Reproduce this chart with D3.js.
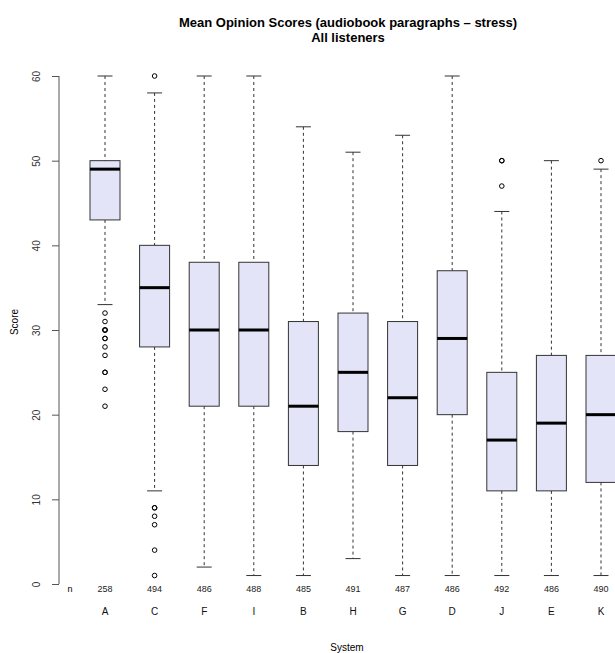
<!DOCTYPE html>
<html><head><meta charset="utf-8">
<script src="https://cdn.jsdelivr.net/npm/d3@7"></script>
<style>body{margin:0;background:#fff}text{font-family:"Liberation Sans",Arial,sans-serif}</style>
</head><body><svg id="c" width="615" height="653"></svg>
<script>
var systems = ["A","C","F","I","B","H","G","D","J","E","K"];
var counts = [258,494,486,488,485,491,487,486,492,486,490];
var whiskLo = [33,11,2,1,1,3,1,1,1,1,1];
var q1 = [43,28,21,21,14,18,14,20,11,11,12];
var median = [49,35,30,30,21,25,22,29,17,19,20];
var q3 = [50,40,38,38,31,32,31,37,25,27,27];
var whiskHi = [60,58,60,60,54,51,53,60,44,50,49];
var outliers = [[32,31,30,30,30,29,29,28,27,25,25,23,21],[60,9,9,8,7,4,1],[],[],[],[],[],[],[50,50,47],[],[50]];
var yTicks = [0,10,20,30,40,50,60];

var svg = d3.select("#c");
var y = d3.scaleLinear().domain([0,60]).range([584,76]);
var x = d3.scalePoint().domain(systems).range([105,601]);
var bw = 30;

svg.append("text").attr("x",348).attr("y",27).attr("text-anchor","middle")
  .style("font-size","13px").style("font-weight","bold").text("Mean Opinion Scores (audiobook paragraphs \u2013 stress)");
svg.append("text").attr("x",348).attr("y",42).attr("text-anchor","middle")
  .style("font-size","13px").style("font-weight","bold").text("All listeners");

var ax = svg.append("g").attr("transform","translate(59,0)")
  .call(d3.axisLeft(y).tickValues(yTicks).tickSize(7).tickPadding(4));
ax.select(".domain").attr("stroke","#555").attr("d","M0,76V584");
ax.selectAll(".tick line").attr("stroke","#555");
ax.selectAll(".tick text").attr("transform","rotate(-90)").attr("x",0).attr("dy",null)
  .attr("y",-19).attr("text-anchor","middle").style("font-size","10px").attr("fill","#333");

svg.append("text").attr("transform","translate(18,322) rotate(-90)").attr("text-anchor","middle")
  .style("font-size","10px").text("Score");
svg.append("text").attr("x",347).attr("y",651).attr("text-anchor","middle").style("font-size","10px").text("System");
svg.append("text").attr("x",70).attr("y",592).attr("text-anchor","middle").style("font-size","9px").text("n");

var g = svg.selectAll("g.box").data(systems).enter().append("g").attr("class","box");
g.append("line").attr("x1",d=>x(d)).attr("x2",d=>x(d))
  .attr("y1",(d,i)=>y(whiskHi[i])).attr("y2",(d,i)=>y(q3[i])).attr("stroke","#333").attr("stroke-dasharray","3,3");
g.append("line").attr("x1",d=>x(d)).attr("x2",d=>x(d))
  .attr("y1",(d,i)=>y(q1[i])).attr("y2",(d,i)=>y(whiskLo[i])).attr("stroke","#333").attr("stroke-dasharray","3,3");
[whiskHi,whiskLo].forEach(function(arr){
  g.append("line").attr("x1",d=>x(d)-bw/4).attr("x2",d=>x(d)+bw/4)
    .attr("y1",(d,i)=>y(arr[i])).attr("y2",(d,i)=>y(arr[i])).attr("stroke","#333");
});
g.append("rect").attr("x",d=>x(d)-bw/2).attr("width",bw)
  .attr("y",(d,i)=>y(q3[i])).attr("height",(d,i)=>y(q1[i])-y(q3[i]))
  .attr("fill","#e4e4f8").attr("stroke","#333");
g.append("line").attr("x1",d=>x(d)-bw/2).attr("x2",d=>x(d)+bw/2)
  .attr("y1",(d,i)=>y(median[i])).attr("y2",(d,i)=>y(median[i])).attr("stroke","#000").attr("stroke-width",3);
g.selectAll("circle").data((d,i)=>outliers[i].map(v=>({s:d,v:v}))).enter().append("circle")
  .attr("cx",o=>x(o.s)).attr("cy",o=>y(o.v)).attr("r",2.3).attr("fill","none").attr("stroke","#000");
g.append("text").attr("x",d=>x(d)).attr("y",592).attr("text-anchor","middle").style("font-size","9px")
  .attr("fill","#222").text((d,i)=>counts[i]);
g.append("text").attr("x",d=>x(d)).attr("y",615).attr("text-anchor","middle").style("font-size","10px")
  .attr("fill","#111").text(d=>d);
</script></body></html>
